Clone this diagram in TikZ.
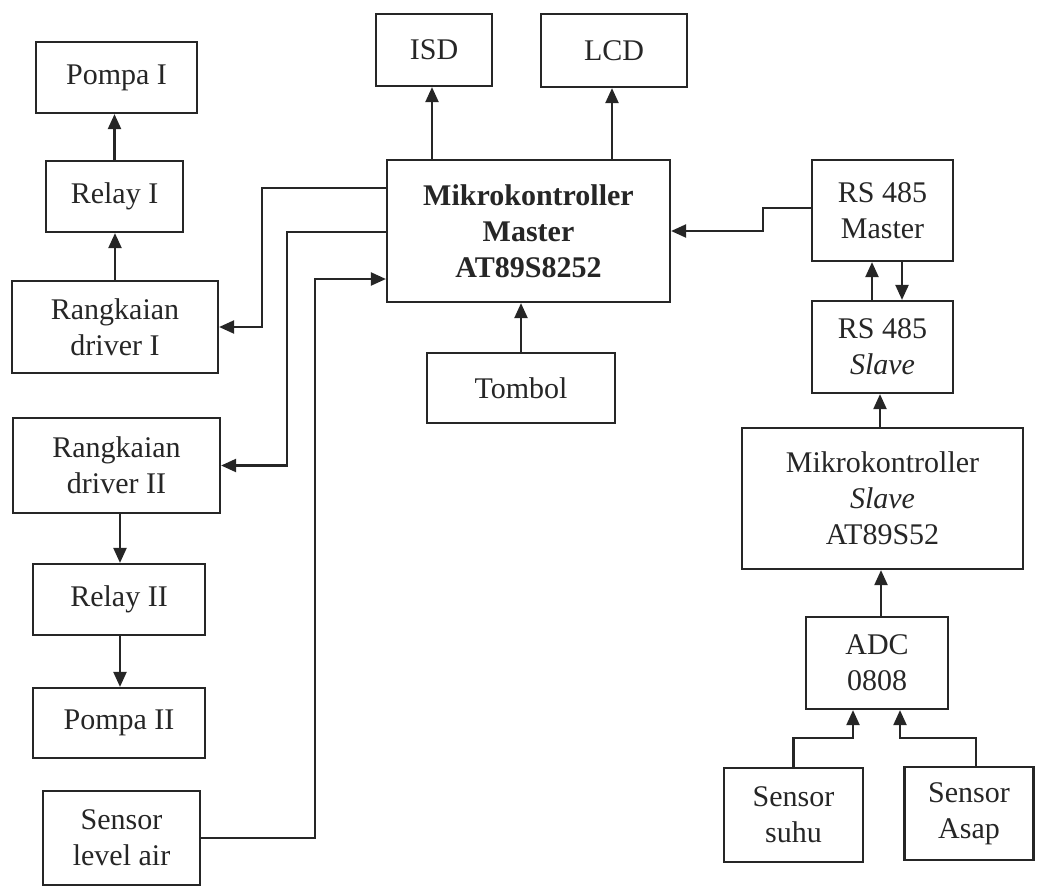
\documentclass[tikz,border=0pt]{standalone}
\usepackage{fontspec}
\setmainfont{Liberation Serif}
\usetikzlibrary{arrows.meta}
\begin{document}
\begin{tikzpicture}[x=1pt,y=-1pt,
  ink/.style={draw=black!85},
  blk/.style={ink, line width=2.2pt, inner sep=0pt, align=center,
    font=\fontsize{30}{36}\selectfont, text=black!85},
  conn/.style={ink, line width=2.2pt, -{Triangle[length=15pt,width=13pt]}}]
\useasboundingbox (0,0) rectangle (1038,887);

% left column: pumps and drivers
\node[blk, minimum width=161, minimum height=71] (pompaI) at (116.5,77.5) {Pompa I};
\node[blk, minimum width=137, minimum height=71] (relayI) at (114.5,196.5) {Relay I};
\node[blk, minimum width=206, minimum height=92] (drvI) at (115,327) {Rangkaian\\driver I};
\node[blk, minimum width=207, minimum height=95] (drvII) at (116.5,465.5) {Rangkaian\\driver II};
\node[blk, minimum width=172, minimum height=71] (relayII) at (119,599.5) {Relay II};
\node[blk, minimum width=172, minimum height=70] (pompaII) at (119,723) {Pompa II};
\node[blk, minimum width=157, minimum height=94] (level) at (121.5,838) {Sensor\\level air};

% centre: master controller and its peripherals
\node[blk, minimum width=116, minimum height=72] (isd) at (434,50) {ISD};
\node[blk, minimum width=146, minimum height=73] (lcd) at (614,50.5) {LCD};
\node[blk, minimum width=283, minimum height=142, font=\fontsize{30}{36}\selectfont\bfseries] (master) at (528.5,231)
  {Mikrokontroller\\Master\\AT89S8252};
\node[blk, minimum width=188, minimum height=70] (tombol) at (521,388) {Tombol};

% right column: slave side
\node[blk, minimum width=141, minimum height=101] (rsm) at (882.5,210.5) {RS 485\\Master};
\node[blk, minimum width=141, minimum height=92] (rss) at (882.5,347) {RS 485\\\textit{Slave}};
\node[blk, minimum width=281, minimum height=141] (mcus) at (882.5,498.5)
  {Mikrokontroller\\\textit{Slave}\\AT89S52};
\node[blk, minimum width=142, minimum height=92] (adc) at (877,663) {ADC\\0808};
\node[blk, minimum width=139, minimum height=94] (suhu) at (793.5,815) {Sensor\\suhu};
\node[blk, minimum width=129, minimum height=93] (asap) at (969,813.5) {Sensor\\Asap};

% left column connectors
\draw[conn] (drvI.north) -- (relayI.south -| drvI.north);
\draw[conn] (relayI.north) -- (pompaI.south -| relayI.north);
\draw[conn] (drvII.south -| 120,0) -- (relayII.north -| 120,0);
\draw[conn] (relayII.south -| 120,0) -- (pompaII.north -| 120,0);

% master to drivers, level sensor to master
\draw[conn] (master.west |- 0,188) -- (262,188) |- (drvI.east);
\draw[conn] (master.west |- 0,232) -- (287,232) |- (drvII.east);
\draw[conn] (level.east) -| (315,279) -- (master.west |- 0,279);

% master outputs and input
\draw[conn] (master.north -| 432,0) -- (isd.south -| 432,0);
\draw[conn] (master.north -| 612,0) -- (lcd.south -| 612,0);
\draw[conn] (tombol.north) -- (master.south -| tombol.north);

% RS 485 link
\draw[conn] (rsm.west |- 0,208) -- (763,208) |- (master.east);
\draw[conn] (rss.north -| 872,0) -- (rsm.south -| 872,0);
\draw[conn] (rsm.south -| 902,0) -- (rss.north -| 902,0);
\draw[conn] (mcus.north -| 880,0) -- (rss.south -| 880,0);
\draw[conn] (adc.north -| 881,0) -- (mcus.south -| 881,0);

% sensors to ADC
\draw[conn] (suhu.north) |- (853,738) -- (adc.south -| 853,0);
\draw[conn] (asap.north -| 976,0) |- (900,738) -- (adc.south -| 900,0);
\end{tikzpicture}
\end{document}
